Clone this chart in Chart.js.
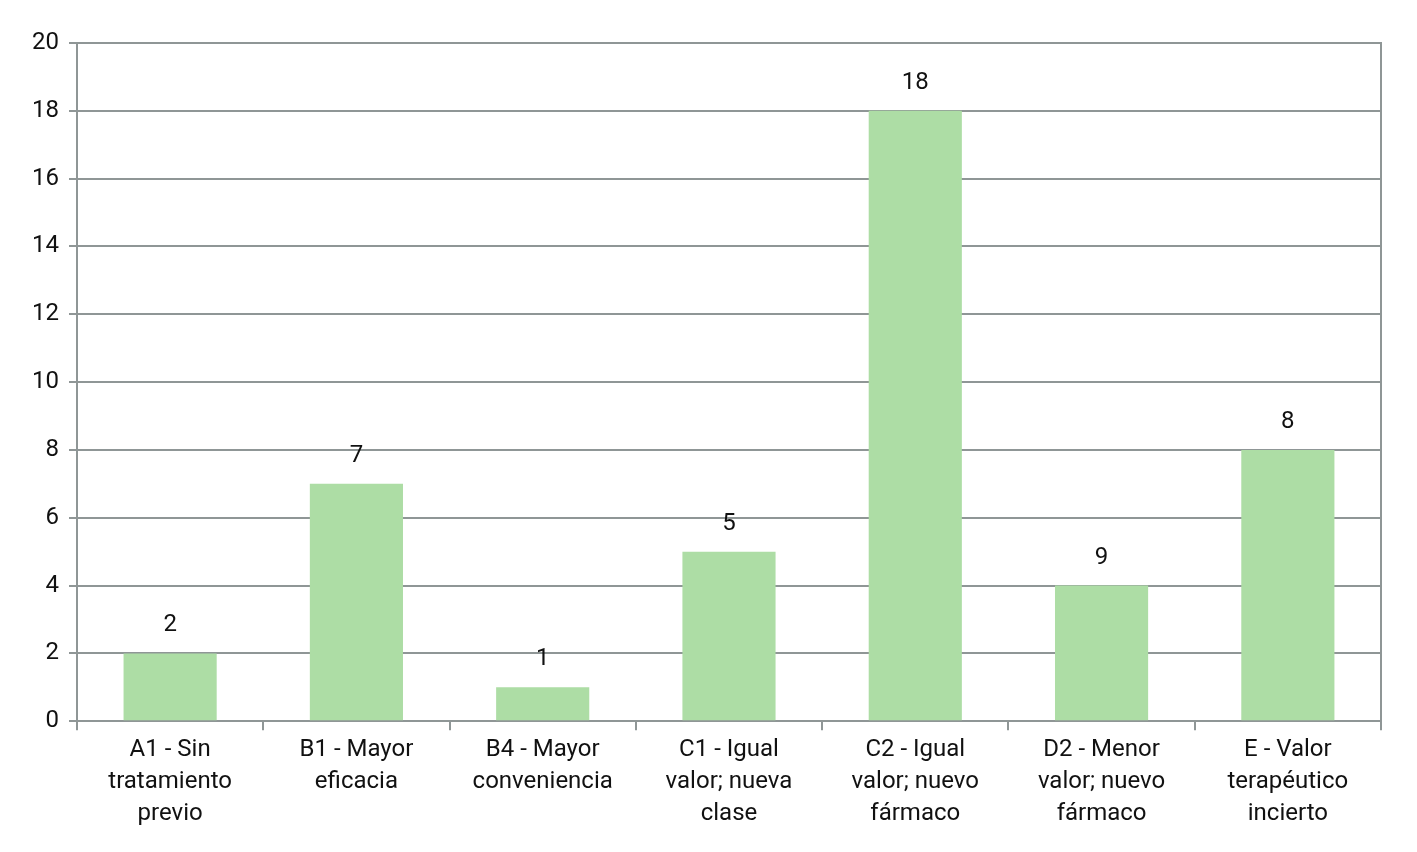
<!DOCTYPE html>
<html>
<head>
<meta charset="utf-8">
<script src="https://cdn.jsdelivr.net/npm/chart.js@4/dist/chart.umd.min.js"></script>
<style>
  html, body { margin: 0; padding: 0; background: #fff; }
  #wrap { width: 1417px; height: 852px; }
</style>
</head>
<body>
<div id="wrap"><canvas id="chart"></canvas></div>
<script>
const categories = [
  ["A1 - Sin", "tratamiento", "previo"],
  ["B1 - Mayor", "eficacia"],
  ["B4 - Mayor", "conveniencia"],
  ["C1 - Igual", "valor; nueva", "clase"],
  ["C2 - Igual", "valor; nuevo", "fármaco"],
  ["D2 - Menor", "valor; nuevo", "fármaco"],
  ["E - Valor", "terapéutico", "incierto"]
];
const values = [2, 7, 1, 5, 18, 4, 8];
// the label printed over each bar (the D2 label reads 9 in the source)
const valueLabels = ["2", "7", "1", "5", "18", "9", "8"];
const yTicks = [0, 2, 4, 6, 8, 10, 12, 14, 16, 18, 20];

const barColor = "#addda5";
const gridColor = "#8f9696";
const fontFamily = "Roboto, 'Noto Sans', sans-serif";

const barLabels = {
  id: "barLabels",
  afterDatasetsDraw(chart) {
    const ctx = chart.ctx;
    const meta = chart.getDatasetMeta(0);
    ctx.save();
    ctx.fillStyle = "#111";
    ctx.font = "24px " + fontFamily;
    ctx.textAlign = "center";
    ctx.textBaseline = "middle";
    meta.data.forEach((bar, i) => {
      ctx.fillText(valueLabels[i], bar.x, bar.y - 28);
    });
    ctx.restore();
  }
};

new Chart(document.querySelector("#chart"), {
  type: "bar",
  data: {
    labels: categories,
    datasets: [{
      data: values,
      backgroundColor: barColor,
      barPercentage: 0.5,
      categoryPercentage: 1.0
    }]
  },
  options: {
    responsive: true,
    maintainAspectRatio: false,
    animation: false,
    layout: { padding: { top: 43, right: 36, bottom: 18, left: 22 } },
    plugins: { legend: { display: false }, tooltip: { enabled: false } },
    scales: {
      x: {
        grid: {
          offset: true,
          drawOnChartArea: false,
          drawTicks: true,
          tickLength: 9,
          color: gridColor,
          lineWidth: 2
        },
        border: { color: gridColor, width: 2 },
        ticks: {
          color: "#111",
          font: { size: 24, family: fontFamily, lineHeight: 1.33 },
          maxRotation: 0,
          autoSkip: false,
          padding: 4
        }
      },
      y: {
        min: 0,
        max: 20,
        afterBuildTicks(axis) { axis.ticks = yTicks.map(v => ({ value: v })); },
        grid: { color: gridColor, lineWidth: 2, tickLength: 8 },
        border: { color: gridColor, width: 2 },
        ticks: {
          color: "#111",
          font: { size: 24, family: fontFamily },
          padding: 10
        }
      },
      y2: {
        position: "right",
        min: 0,
        max: 20,
        grid: { drawOnChartArea: false, drawTicks: false },
        border: { color: gridColor, width: 2 },
        ticks: { display: false }
      }
    }
  },
  plugins: [barLabels]
});
</script>
</body>
</html>
